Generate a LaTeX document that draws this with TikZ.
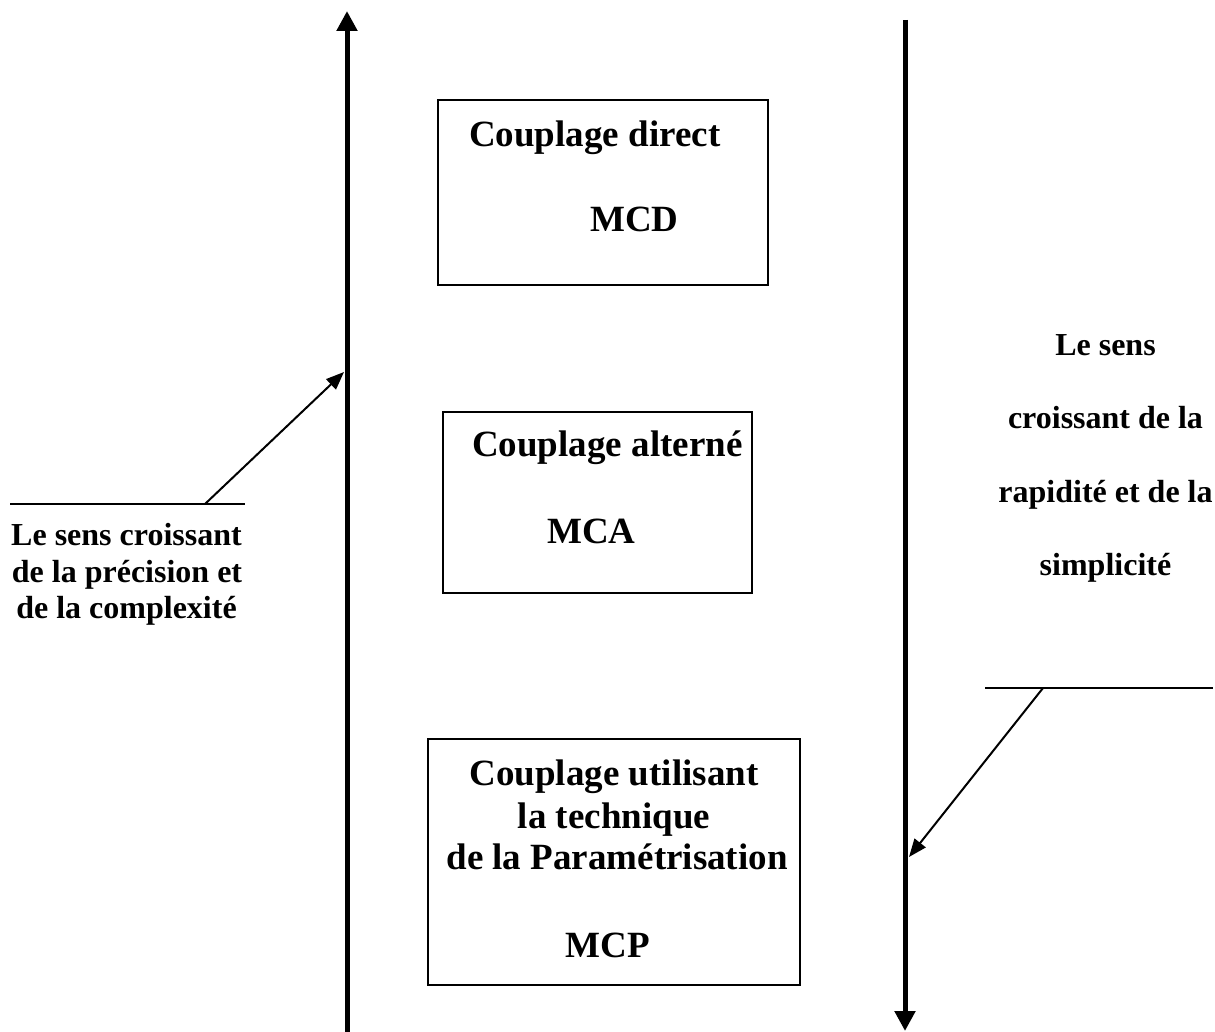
\documentclass[tikz,border=0pt]{standalone}
\usepackage{fontspec}
\setmainfont{Liberation Serif}
\usetikzlibrary{arrows.meta}
\begin{document}
\begin{tikzpicture}[x=1pt,y=-1pt,
  bigtxt/.style={inner sep=0pt,font=\fontsize{37}{42}\selectfont\bfseries},
  smalltxt/.style={inner sep=0pt,font=\fontsize{32}{36}\selectfont\bfseries},
  boxnode/.style={draw,line width=2pt,inner sep=0pt},
  axis/.style={line width=5pt,-{Triangle[width=20pt,length=20pt]}},
  pointer/.style={line width=2pt,-{Triangle[width=14pt,length=18pt]}},
  rule/.style={line width=2pt}]
\useasboundingbox (0,0) rectangle (1215,1032);
% boxes
\node[boxnode,minimum width=330pt,minimum height=185pt] (b1) at (603,192.5) {};
\node[boxnode,minimum width=309pt,minimum height=181pt] (b2) at (597.5,502.5) {};
\node[boxnode,minimum width=372pt,minimum height=246pt] (b3) at (614,862) {};
% box texts
\node[bigtxt,anchor=base west] (t1a) at (469,147) {Couplage direct};
\node[bigtxt,anchor=base west] (t1b) at (590,232) {MCD};
\node[bigtxt,anchor=base west] (t2a) at (472,456) {Couplage alterné};
\node[bigtxt,anchor=base west] (t2b) at (547,543) {MCA};
\node[bigtxt,anchor=base] (t3a) at (614,785) {Couplage utilisant};
\node[bigtxt,anchor=base] (t3b) at (614,828) {la technique};
\node[bigtxt,anchor=base] (t3c) at (617,869) {de la Paramétrisation};
\node[bigtxt,anchor=base] (t3d) at (608,957) {MCP};
% axes
\coordinate (la0) at (347,1032);
\coordinate (la1) at (347,11);
\coordinate (ra0) at (905,20);
\coordinate (ra1) at (905,1031);
\draw[axis] (la0) -- (la1);
\draw[axis] (ra0) -- (ra1);
% left annotation
\coordinate (lh0) at (10,504);
\coordinate (lh1) at (245,504);
\coordinate (ld0) at (205,504);
\coordinate (ld1) at (344,372);
\draw[rule] (lh0) -- (lh1);
\draw[pointer] (ld0) -- (ld1);
\node[smalltxt,anchor=base] (lt1) at (126.5,545) {Le sens croissant};
\node[smalltxt,anchor=base] (lt2) at (127,582) {de la précision et};
\node[smalltxt,anchor=base] (lt3) at (126.5,618) {de la complexité};
% right annotation
\coordinate (rh0) at (985,688);
\coordinate (rh1) at (1213,688);
\coordinate (rd0) at (1043,688);
\coordinate (rd1) at (909,857);
\draw[rule] (rh0) -- (rh1);
\draw[pointer] (rd0) -- (rd1);
\node[smalltxt,anchor=base] (rt1) at (1105.5,355) {Le sens};
\node[smalltxt,anchor=base] (rt2) at (1105.5,428) {croissant de la};
\node[smalltxt,anchor=base] (rt3) at (1105.5,502) {rapidité et de la};
\node[smalltxt,anchor=base] (rt4) at (1105.5,575) {simplicité};
\end{tikzpicture}
\end{document}
